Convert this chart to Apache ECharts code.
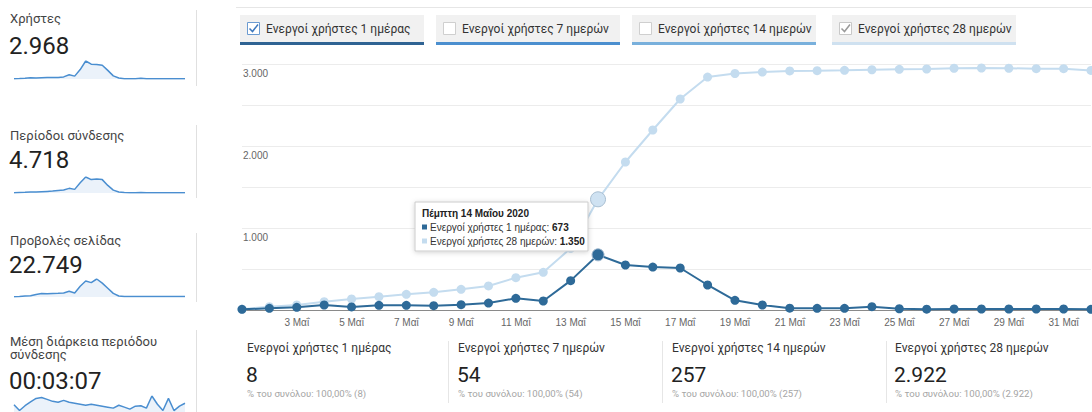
<!DOCTYPE html>
<html><head><meta charset="utf-8">
<script src="https://cdn.jsdelivr.net/npm/echarts@6/dist/echarts.min.js"></script>
<style>html,body{margin:0;padding:0;background:#fff}#c{width:1092px;height:412px}</style>
</head><body><div id="c"></div>
<script>
// ---------- data ----------
const dates = ['1 Μαΐ','2 Μαΐ','3 Μαΐ','4 Μαΐ','5 Μαΐ','6 Μαΐ','7 Μαΐ','8 Μαΐ','9 Μαΐ','10 Μαΐ',
  '11 Μαΐ','12 Μαΐ','13 Μαΐ','14 Μαΐ','15 Μαΐ','16 Μαΐ','17 Μαΐ','18 Μαΐ','19 Μαΐ','20 Μαΐ',
  '21 Μαΐ','22 Μαΐ','23 Μαΐ','24 Μαΐ','25 Μαΐ','26 Μαΐ','27 Μαΐ','28 Μαΐ','29 Μαΐ','30 Μαΐ','31 Μαΐ','1 Ιουν'];
const active1 = [8,20,33,61,37,57,57,53,65,85,142,110,358,673,549,524,512,305,118,61,22,20,20,40,15,10,12,12,12,12,12,8];
const active28 = [10,40,61,101,134,162,191,216,252,293,394,460,752,1350,1805,2195,2573,2841,2884,2902,2915,2918,2923,2930,2935,2939,2948,2951,2948,2943,2943,2922];
const yTicks = [0,500,1000,1500,2000,2500,3000];

const legendLabels = ['Ενεργοί χρήστες 1 ημέρας','Ενεργοί χρήστες 7 ημερών','Ενεργοί χρήστες 14 ημερών','Ενεργοί χρήστες 28 ημερών'];
const legendChecked = [true,false,false,true];

const metricLabels = ['Χρήστες','Περίοδοι σύνδεσης','Προβολές σελίδας','Μέση διάρκεια περιόδου\nσύνδεσης'];
const metricValues = ['2.968','4.718','22.749','00:03:07'];
const sparkUsers = [10,15,25,50,35,50,55,55,60,80,160,110,360,690,570,560,530,330,120,40,12,10,10,25,10,8,8,8,8,8,8,8];
const sparkSessions = [20,35,50,70,70,90,110,130,170,210,320,250,700,1100,920,960,920,520,200,70,30,25,25,40,20,15,15,15,15,15,15,12];
const sparkPageviews = [50,110,230,270,570,800,730,800,850,910,1260,910,2400,3540,3200,4000,3080,1940,800,230,100,100,100,120,100,90,90,90,90,90,90,90];
const sparkDuration = [170,110,160,200,235,245,225,205,195,215,195,185,175,165,175,165,155,145,135,165,145,125,155,160,135,260,175,110,235,110,155,185];

const summaryLabels = ['Ενεργοί χρήστες 1 ημέρας','Ενεργοί χρήστες 7 ημερών','Ενεργοί χρήστες 14 ημερών','Ενεργοί χρήστες 28 ημερών'];
const summaryValues = [8,54,257,2922];

const tooltipTitle = 'Πέμπτη 14 Μαΐου 2020';
const tooltipIndex = 13;

// ---------- helpers ----------
const fmt = v => String(v).replace(/\B(?=(\d{3})+(?!\d))/g, '.');
const DARK = '#2e6a98', LIGHT = '#c4dcef';
const SPARK_LINE = '#4a8ed0', SPARK_FILL = '#e2edf8';
const AR = '"Liberation Sans", Arial, sans-serif';
const g = [];
function txt(x, y, text, size, color, o = {}) {
  g.push({type:'text', x, y, silent:true, z:10, style:Object.assign({
    text, fill:color, font:`${o.weight||'normal'} ${size}px ${o.family||'Roboto, sans-serif'}`,
    align:o.align||'left', verticalAlign:o.va||'middle', lineHeight:o.lh}, o.style||{})});
}
function rect(x, y, w, h, fill, o = {}) {
  g.push({type:'rect', x, y, silent:true, z:o.z||5, shape:{x:0,y:0,width:w,height:h,r:o.r||0},
    style:Object.assign({fill, stroke:o.stroke||null, lineWidth:o.lw||1}, o.style||{})});
}
function line(x1, y1, x2, y2, color, w = 1) {
  g.push({type:'line', silent:true, z:5, shape:{x1,y1,x2,y2}, style:{stroke:color, lineWidth:w}});
}

// top separator
line(236, 7.5, 1092, 7.5, '#e6e6e6');

// legend tabs
const tabX = [240, 436, 632, 832], tabW = 184;
const tabUnder = ['#2f6393', '#4b8fcf', '#79b0dc', '#cfe1f0'];
legendLabels.forEach((lab, i) => {
  const x = tabX[i];
  rect(x, 15, tabW, 27, '#f1f1f1');
  rect(x, 42, tabW, 3, tabUnder[i]);
  rect(x + 7.5, 22.5, 12, 12, '#fff', {stroke: legendChecked[i] ? (i === 0 ? '#6b9bd1' : '#c8c8c8') : '#cfcfcf', z:6});
  if (legendChecked[i]) {
    g.push({type:'polyline', silent:true, z:7, shape:{points:[[x+9.5,28.5],[x+12.5,31.5],[x+18,24.5]]},
      style:{stroke: i === 0 ? '#3d78bd' : '#9a9a9a', lineWidth:1.5, fill:null}});
  }
  txt(x + 26, 29, lab, 12, '#333');
});

// left metrics
const mY = [{l:18, v:46}, {l:135, v:160}, {l:240, v:265}, {l:348, v:381}];
metricLabels.forEach((lab, i) => {
  txt(10, mY[i].l, lab, 13, '#444', {lh:13});
  txt(9, mY[i].v, metricValues[i], 24, '#222');
});
[[10, 86], [125, 198], [233, 302], [330, 412]].forEach(s => line(196.5, s[0], 196.5, s[1], '#e0e0e0'));

// bottom summary cards
const cardX = [247, 458, 672, 895];
summaryLabels.forEach((lab, i) => {
  txt(cardX[i], 348, lab, 12, '#333');
  txt(cardX[i] - 1, 375, fmt(summaryValues[i]), 21, '#222');
  txt(cardX[i], 393.5, `% του συνόλου: 100,00% (${fmt(summaryValues[i])})`, 9.6, '#a5a5a5');
});
[448.5, 662.5, 886.5].forEach(x => line(x, 341, x, 403, '#e6e6e6'));

// tooltip box (drawn above the lines)
const TZ = 100;
g.push({type:'group', x:415, y:202, z:TZ, children:[
  {type:'rect', silent:true, z:TZ, shape:{x:0,y:0,width:173,height:49},
    style:{fill:'#fff', stroke:'#cccccc', lineWidth:1, shadowBlur:5, shadowColor:'rgba(0,0,0,0.18)', shadowOffsetY:1}},
  {type:'text', silent:true, z:TZ+1, x:7, y:11, style:{text:tooltipTitle, font:`bold 10px ${AR}`, fill:'#222', verticalAlign:'middle'}},
  {type:'rect', silent:true, z:TZ+1, shape:{x:7,y:22.5,width:5,height:5}, style:{fill:DARK}},
  {type:'text', silent:true, z:TZ+1, x:15, y:25, style:{text:`{a|${legendLabels[0]}: }{b|${fmt(active1[tooltipIndex])}}`, verticalAlign:'middle',
    rich:{a:{font:`10px ${AR}`, fill:'#333'}, b:{font:`bold 10px ${AR}`, fill:'#222'}}}},
  {type:'rect', silent:true, z:TZ+1, shape:{x:7,y:36.5,width:5,height:5}, style:{fill:LIGHT}},
  {type:'text', silent:true, z:TZ+1, x:15, y:39, style:{text:`{a|${legendLabels[3]}: }{b|${fmt(active28[tooltipIndex])}}`, verticalAlign:'middle',
    rich:{a:{font:`10px ${AR}`, fill:'#333'}, b:{font:`bold 10px ${AR}`, fill:'#222'}}}}
]});

// ---------- chart ----------
const idx = dates.map((_, i) => i);
const sparkGrids = [
  {left:14, width:171, top:61, height:18},
  {left:14, width:171, top:177, height:16},
  {left:14, width:171, top:279, height:18},
  {left:14, width:171, top:396, height:17}
];
const sparkData = [sparkUsers, sparkSessions, sparkPageviews, sparkDuration];

const option = {
  animation:false,
  grid:[{left:242, right:1, top:64, bottom:102}].concat(sparkGrids),
  xAxis:[{type:'category', gridIndex:0, data:dates, boundaryGap:false,
      axisLine:{lineStyle:{color:'#8a8a8a', width:1}}, axisTick:{show:false},
      axisLabel:{color:'#666', fontSize:10, fontFamily:AR, margin:7,
        interval:(i) => i > 0 && i < dates.length - 1 && i % 2 === 0}}]
    .concat(sparkGrids.map((_, k) => ({type:'category', gridIndex:k+1, data:idx, boundaryGap:false, show:false}))),
  yAxis:[{type:'value', gridIndex:0, min:yTicks[0], max:yTicks[yTicks.length-1], interval:500,
      axisLine:{show:false}, axisTick:{show:false},
      splitLine:{lineStyle:{color:'#ececec'}},
      axisLabel:{inside:true, margin:1, verticalAlign:'top', padding:[4,0,0,0], color:'#666', fontSize:10,
        fontFamily:AR, formatter:(v) => (v > 0 && v % 1000 === 0) ? fmt(v) : ''}}]
    .concat(sparkGrids.map((_, k) => ({type:'value', gridIndex:k+1, show:false,
      min: k === 3 ? 95 : 0, max:'dataMax'}))),
  graphic:{z:100, elements:g},
  series:[
    {type:'line', xAxisIndex:0, yAxisIndex:0, z:3,
      data:active28.map((v, i) => i === tooltipIndex ? {value:v, symbolSize:15,
        itemStyle:{color:'#cfe2f2', borderColor:'#a9bfd2', borderWidth:1}} : v),
      symbol:'circle', symbolSize:9, showAllSymbol:true, color:LIGHT,
      lineStyle:{width:2, color:LIGHT}, itemStyle:{color:LIGHT}},
    {type:'line', xAxisIndex:0, yAxisIndex:0, z:4,
      data:active1.map((v, i) => i === tooltipIndex ? {value:v, symbolSize:12,
        itemStyle:{color:DARK, borderColor:'#9fb8cf', borderWidth:1}} : v),
      symbol:'circle', symbolSize:9, showAllSymbol:true, color:DARK,
      lineStyle:{width:2, color:DARK}, itemStyle:{color:DARK}}
  ].concat(sparkData.map((d, k) => ({type:'line', xAxisIndex:k+1, yAxisIndex:k+1, data:d,
      symbol:'none', lineStyle:{width:1.5, color:SPARK_LINE}, areaStyle:{color:SPARK_FILL, origin:'start'}})))
};
const chart = echarts.init(document.getElementById('c'), null, {renderer:'svg'});
chart.setOption(option);
</script>
</body></html>
